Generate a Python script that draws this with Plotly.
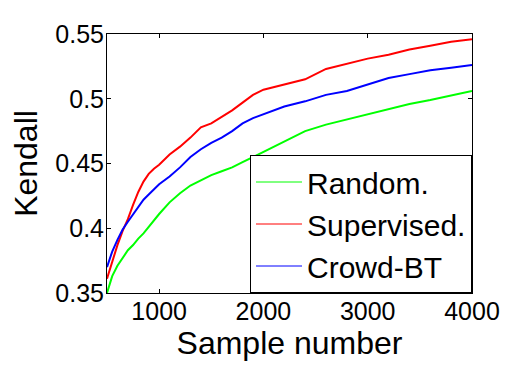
import plotly.graph_objects as go

FONT = "Liberation Sans, Arial, sans-serif"

samples = [500, 550, 600, 650, 700, 750, 800, 850, 900, 950, 1000, 1100, 1200, 1300,
           1400, 1500, 1600, 1700, 1800, 1900, 2000, 2200, 2400, 2600, 2800, 3000,
           3200, 3400, 3600, 3800, 4000]

random_vals = [0.350, 0.363, 0.371, 0.377, 0.383, 0.387, 0.392, 0.396, 0.401, 0.406,
               0.411, 0.420, 0.427, 0.433, 0.437, 0.441, 0.444, 0.447, 0.451, 0.455,
               0.4595, 0.467, 0.475, 0.480, 0.484, 0.488, 0.4925, 0.496, 0.499, 0.5025,
               0.506]

supervised_vals = [0.361, 0.374, 0.387, 0.398, 0.407, 0.418, 0.428, 0.436, 0.442, 0.446,
                   0.449, 0.457, 0.463, 0.470, 0.478, 0.481, 0.486, 0.491, 0.497, 0.503,
                   0.507, 0.511, 0.515, 0.523, 0.527, 0.531, 0.534, 0.538, 0.541, 0.544,
                   0.546]

crowd_bt_vals = [0.370, 0.382, 0.391, 0.399, 0.405, 0.411, 0.417, 0.422, 0.426, 0.430,
                 0.434, 0.440, 0.447, 0.455, 0.461, 0.466, 0.470, 0.475, 0.481, 0.485,
                 0.488, 0.494, 0.498, 0.503, 0.506, 0.511, 0.516, 0.519, 0.522, 0.524,
                 0.526]

x_ticks = [1000, 2000, 3000, 4000]
y_ticks = [0.35, 0.4, 0.45, 0.5, 0.55]
y_tick_text = ['0.35', '0.4', '0.45', '0.5', '0.55']

fig = go.Figure()
series = [('Random.', random_vals, '#00ff00'),
          ('Supervised.', supervised_vals, '#ff0000'),
          ('Crowd-BT', crowd_bt_vals, '#0000ff')]
for name, vals, color in series:
    fig.add_trace(go.Scatter(x=samples, y=vals, name=name, mode='lines', showlegend=False,
                             line=dict(color=color, width=2)))
# thin legend keys, like the original
for name, vals, color in series:
    fig.add_trace(go.Scatter(x=[None], y=[None], name=name, mode='lines',
                             line=dict(color=color, width=1)))

axis_common = dict(showgrid=False, zeroline=False, showline=True, linecolor='black',
                   linewidth=1, mirror='ticks', ticks='inside', ticklen=4,
                   tickcolor='black', tickfont=dict(family=FONT, size=25, color='black'))

fig.update_xaxes(range=[500, 4000], tickvals=x_ticks, ticktext=[str(t) for t in x_ticks],
                 ticklabelstandoff=-4,
                 title=dict(text='Sample number', font=dict(family=FONT, size=32, color='black'),
                            standoff=0),
                 **axis_common)
fig.update_yaxes(range=[0.35, 0.55], tickvals=y_ticks, ticktext=y_tick_text,
                 ticklabelstandoff=-3,
                 title=dict(text='Kendall', font=dict(family=FONT, size=32, color='black'),
                            standoff=13),
                 **axis_common)

# the page body adds an 8px margin, so the figure is sized to fit inside it
fig.update_layout(
    width=513, height=358,
    margin=dict(l=99, r=49, t=19, b=73),
    paper_bgcolor='white', plot_bgcolor='white',
    font=dict(family=FONT, color='black'),
    legend=dict(x=1, y=0, xanchor='right', yanchor='bottom',
                bgcolor='white', bordercolor='black', borderwidth=1,
                font=dict(family=FONT, size=30, color='black'),
                itemwidth=46, tracegroupgap=0),
)

fig.write_html("out.html")
